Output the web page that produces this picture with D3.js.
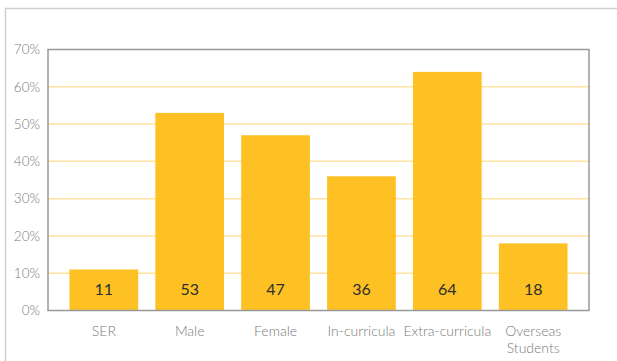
<!DOCTYPE html>
<html>
<head>
<meta charset="utf-8">
<script src="https://cdn.jsdelivr.net/npm/d3@7"></script>
<style>
  html, body { margin: 0; padding: 0; background: #fff; }
  svg { display: block; }
  text { font-family: "Lato", "Noto Sans", sans-serif; }
</style>
</head>
<body>
<svg id="chart" width="617" height="361"></svg>
<script>
// Share of participants per group (%)
const categories = ["SER", "Male", "Female", "In-curricula", "Extra-curricula", "Overseas\nStudents"];
const values = [11, 53, 47, 36, 64, 18];
const yTicks = [0, 10, 20, 30, 40, 50, 60, 70];

const svg = d3.select("#chart");
const W = 617, H = 361;
const plot = { left: 48, right: 589, top: 49.5, bottom: 310.5 };

// outer frame (top and left edges)
svg.append("path")
  .attr("d", `M5.5,${H} V8.5 H${W}`)
  .attr("fill", "none")
  .attr("stroke", "#cfcfcf")
  .attr("stroke-width", 1.5);

const x = d3.scaleBand()
  .domain(categories)
  .range([plot.left, plot.right])
  .paddingInner(0.2)
  .paddingOuter(0.25);

const y = d3.scaleLinear()
  .domain([0, 70])
  .range([plot.bottom, plot.top]);

// gridlines
svg.append("g")
  .selectAll("line")
  .data(yTicks.filter(t => t > 0 && t < 70))
  .join("line")
  .attr("x1", plot.left)
  .attr("x2", plot.right)
  .attr("y1", d => y(d))
  .attr("y2", d => y(d))
  .attr("stroke", "#ffe2a0")
  .attr("stroke-width", 1.5);

// bars
svg.append("g")
  .selectAll("rect")
  .data(values)
  .join("rect")
  .attr("x", (d, i) => x(categories[i]))
  .attr("width", x.bandwidth())
  .attr("y", d => y(d))
  .attr("height", d => y(0) - y(d))
  .attr("fill", "#fdc124");

// value labels
svg.append("g")
  .selectAll("text")
  .data(values)
  .join("text")
  .attr("x", (d, i) => x(categories[i]) + x.bandwidth() / 2)
  .attr("y", y(0) - 15.5)
  .attr("text-anchor", "middle")
  .attr("font-size", 16)
  .attr("fill", "#2e2e2e")
  .text(d => d);

// plot frame
svg.append("rect")
  .attr("x", plot.left)
  .attr("y", plot.top)
  .attr("width", plot.right - plot.left)
  .attr("height", plot.bottom - plot.top)
  .attr("fill", "none")
  .attr("stroke", "#999")
  .attr("stroke-width", 1.5);

// y axis labels
const yAxis = d3.axisLeft(y)
  .tickValues(yTicks)
  .tickSize(0)
  .tickPadding(8)
  .tickFormat(d => d + "%");
const gy = svg.append("g")
  .attr("transform", `translate(${plot.left},0)`)
  .call(yAxis);
gy.select(".domain").remove();
gy.selectAll("text")
  .attr("font-size", 13.5)
  .attr("font-weight", 300)
  .attr("font-family", "Lato, 'Noto Sans', sans-serif")
  .attr("fill", "#7a7a7a");

// x axis labels
const xAxis = d3.axisBottom(x).tickSize(0).tickPadding(0).tickFormat("");
const gx = svg.append("g")
  .attr("transform", `translate(0,${plot.bottom})`)
  .call(xAxis);
gx.select(".domain").remove();
gx.selectAll(".tick").each(function(d) {
  const lines = d.split("\n");
  const t = d3.select(this).append("text")
    .attr("text-anchor", "middle")
    .attr("font-size", 14)
    .attr("font-weight", 300)
    .attr("font-family", "Lato, 'Noto Sans', sans-serif")
    .attr("fill", "#7a7a7a");
  lines.forEach((ln, k) => {
    t.append("tspan").attr("x", 0).attr("y", 25 + k * 17).text(ln);
  });
});
</script>
</body>
</html>
